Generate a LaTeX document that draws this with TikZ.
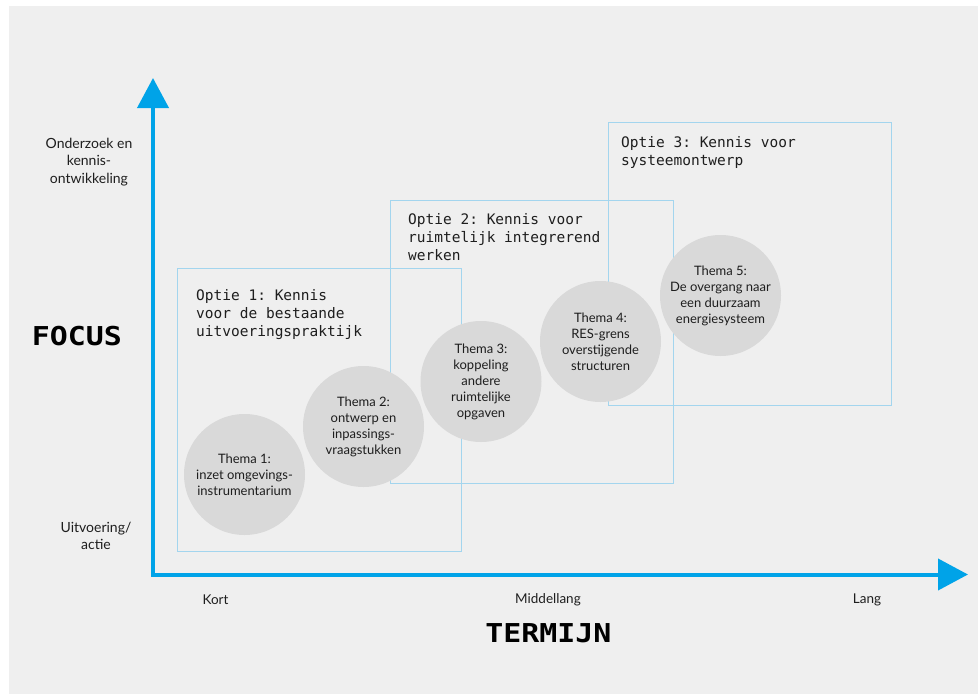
\documentclass[tikz,border=0pt]{standalone}
\usepackage{fontspec}
\setmainfont{Lato}
\setmonofont{DejaVu Sans Mono}
\newfontfamily\bigmono[FakeStretch=1.15]{DejaVu Sans Mono}
\usetikzlibrary{arrows.meta}
\definecolor{bggray}{RGB}{239,239,239}
\definecolor{axisblue}{RGB}{0,163,232}
\definecolor{boxblue}{RGB}{163,213,238}
\definecolor{circgray}{RGB}{217,217,217}
\definecolor{txt}{RGB}{30,30,30}
\tikzset{
  optbox/.style={draw=boxblue, line width=1pt},
  thema/.style={circle, fill=circgray, minimum size=121pt, inner sep=0pt, align=center, text=txt, font=\fontsize{13}{16}\selectfont},
  optlabel/.style={anchor=north west, inner sep=0pt, align=left, text=txt, font=\ttfamily\fontsize{14.5}{18}\selectfont},
  sidelabel/.style={inner sep=0pt, align=center, text=txt, font=\fontsize{14}{17.5}\selectfont},
  ticklabel/.style={inner sep=0pt, text=txt, font=\fontsize{13.5}{16}\selectfont},
  bigtitle/.style={inner sep=0pt, text=black, font=\bigmono\bfseries\fontsize{26}{30}\selectfont},
  axisline/.style={draw=axisblue, line width=4pt, {Triangle[length=30pt,width=31pt]}-{Triangle[length=30pt,width=31pt]}}
}
\begin{document}
\begin{tikzpicture}[x=1pt,y=-1pt]
\useasboundingbox (0,0) rectangle (978,694);
\fill[bggray] (9,6) rectangle (978,694);

% option boxes
\draw[optbox] (177,268) rectangle (461,551);
\draw[optbox] (390,200.5) rectangle (673,483.5);
\draw[optbox] (608.5,122.5) rectangle (891.5,405.5);

\node[optlabel] (o1) at (196,289) {Optie 1: Kennis\\voor de bestaande\\uitvoeringspraktijk};
\node[optlabel] (o2) at (408,213.5) {Optie 2: Kennis voor\\ruimtelijk integrerend\\werken};
\node[optlabel] (o3) at (621,136.5) {Optie 3: Kennis voor\\systeemontwerp};

% themes
\node[thema] (t1) at (244.5,474.5) {Thema 1:\\inzet omgevings-\\instrumentarium};
\node[thema] (t2) at (363.5,426.5) {Thema 2:\\ontwerp en\\inpassings-\\vraagstukken};
\node[thema] (t3) at (481,381.5) {Thema 3:\\koppeling\\andere\\ruimtelijke\\opgaven};
\node[thema] (t4) at (600.5,341.5) {Thema 4:\\RES-grens\\overstijgende\\structuren};
\node[thema] (t5) at (720.5,295.5) {Thema 5:\\De overgang naar\\een duurzaam\\energiesysteem};

% axes
\coordinate (ytip) at (153,78);
\coordinate (origin) at (153,574.5);
\coordinate (xtip) at (968,574.5);
\draw[axisline] (ytip) -- (origin) -- (xtip);

% axis labels
\node[sidelabel] (hi) at (89,162) {Onderzoek en\\kennis-\\ontwikkeling};
\node[sidelabel] (lo) at (96,536) {Uitvoering/\\actie};
\node[bigtitle] (focus) at (77,336) {FOCUS};
\node[ticklabel] (kort) at (215.5,600) {Kort};
\node[ticklabel] (mid) at (548,600) {Middellang};
\node[ticklabel] (lang) at (867,600) {Lang};
\node[bigtitle] (termijn) at (548.5,633) {TERMIJN};
\end{tikzpicture}
\end{document}
